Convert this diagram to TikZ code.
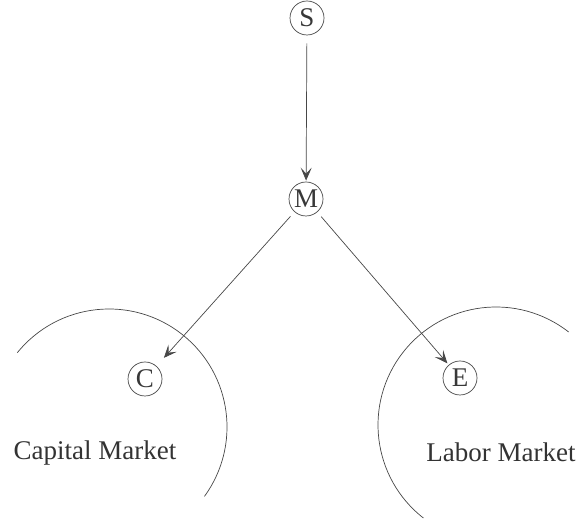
\documentclass[tikz,border=0pt]{standalone}
\usepackage{fontspec}
\setmainfont{Liberation Serif}
\usetikzlibrary{arrows.meta}
\begin{document}
\begin{tikzpicture}[x=1pt,y=1pt,
  ink/.style={draw=black!72,line width=0.7pt},
  letter/.style={circle,ink,minimum size=34pt,inner sep=0pt,font=\fontsize{27}{27}\selectfont,text=black!78},
  label/.style={font=\fontsize{27}{27}\selectfont,text=black!80,inner sep=0pt},
  flow/.style={ink,-{Stealth[length=13pt,width=11pt,inset=6pt]}}]
\useasboundingbox (0,0) rectangle (585,526);
\node[letter] (S) at (307,508) {S};
\node[letter] (M) at (306,327) {M};
\node[letter] (C) at (145,147) {C};
\node[letter] (E) at (460,148) {E};
\node[label] (cap) at (95,73) {Capital Market};
\node[label] (lab) at (501,74) {Labor Market};
\draw[flow,shorten <=8pt,shorten >=1pt] (S) -- (M);
\draw[flow,shorten <=6pt,shorten >=11pt] (M) -- (C);
\draw[flow,shorten <=6pt,shorten >=2pt] (M) -- (E);
\draw[ink] (109,99) ++(141:118) arc[start angle=141,end angle=-36,radius=118];
\draw[ink] (496,101) ++(52:118) arc[start angle=52,end angle=232,radius=118];
\end{tikzpicture}
\end{document}
